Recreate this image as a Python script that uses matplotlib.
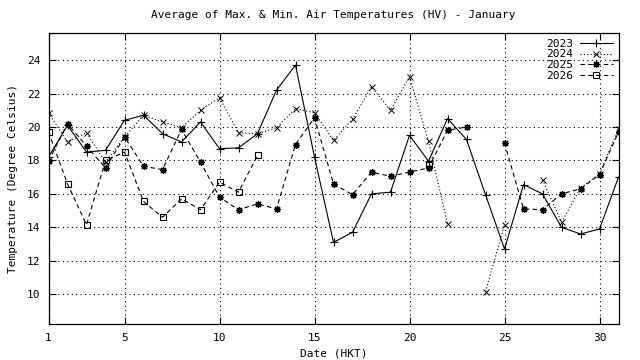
import numpy as np
import matplotlib
matplotlib.use('Agg')
import matplotlib.pyplot as plt

nan = np.nan

# Daily mean of max & min air temperature, HV, January
days = np.arange(1, 32)
t2023 = [18.2, 20.1, 18.5, 18.6, 20.4, 20.7, 19.6, 19.1, 20.3, 18.7, 18.75,
         19.6, 22.2, 23.7, 18.2, 13.1, 13.7, 16.0, 16.1, 19.5, 17.95, 20.5,
         19.25, 15.95, 12.7, 16.55, 16.0, 14.0, 13.6, 13.9, 17.0]
t2024 = [20.85, 19.1, 19.65, 17.9, 19.4, 20.7, 20.3, 19.95, 21.0, 21.75, 19.65,
         19.6, 19.95, 21.1, 20.85, 19.2, 20.45, 22.4, 21.0, 23.0, 19.15, 14.2,
         nan, 10.15, 14.15, nan, 16.85, 14.3, 16.35, 17.2, 19.9]
t2025 = [17.95, 20.2, 18.85, 17.55, 19.4, 17.65, 17.45, 19.85, 17.9, 15.8, 15.05,
         15.4, 15.1, 18.95, 20.55, 16.6, 15.95, 17.3, 17.05, 17.3, 17.55, 19.8,
         20.0, nan, 19.05, 15.1, 15.05, 16.0, 16.3, 17.15, 19.7]
t2026 = [19.7, 16.6, 14.15, 18.0, 18.5, 15.55, 14.6, 15.7, 15.05, 16.7, 16.1,
         18.3, nan, nan, nan, nan, nan, nan, nan, nan, 17.7, nan,
         nan, nan, nan, nan, nan, nan, nan, nan, nan]

plt.rcParams['font.family'] = ['DejaVu Sans Mono']
plt.rcParams['font.size'] = 8

fig = plt.figure(figsize=(6.4, 3.6), dpi=100)
ax = fig.add_axes([48.5/640, 1 - 324.3/360, 570/640, 291/360])

lw = 0.8
ax.plot(days, t2023, color='k', lw=lw, ls='-', marker='+', ms=6, mew=lw, label='2023')
ax.plot(days, t2024, color='k', lw=lw, ls=(0, (1, 2)), marker='x', ms=4.5, mew=0.7, label='2024')
ax.plot(days, t2025, color='k', lw=lw, ls=(0, (4, 3)), marker=(8, 2, 0), ms=5, mew=0.9, label='2025')
ax.plot(days, t2026, color='k', lw=lw, ls=(0, (4, 3)), marker='s', ms=4, mew=lw,
        mfc='none', label='2026')

ax.set_xlim(1, 31)
ax.set_ylim(8.2, 25.6)
ax.set_xticks([1, 5, 10, 15, 20, 25, 30])
ax.set_yticks(np.arange(10, 25, 2))
ax.tick_params(direction='in', top=True, right=True, length=5, width=0.8, labelsize=8, pad=6)
ax.grid(True, color='k', ls=(0, (1, 3)), lw=0.8)
for s in ax.spines.values():
    s.set_linewidth(0.9)

ax.set_title('Average of Max. & Min. Air Temperatures (HV) - January', fontsize=8, pad=11)
ax.set_xlabel('Date (HKT)', fontsize=8, labelpad=4)
ax.set_ylabel('Temperature (Degree Celsius)', fontsize=8, labelpad=6)

ax.legend(loc='upper right', frameon=False, markerfirst=False, fontsize=8,
          handlelength=3.0, labelspacing=0.05, borderaxespad=0.1,
          handletextpad=0.6, numpoints=1)

fig.savefig('out.png', dpi=100)
